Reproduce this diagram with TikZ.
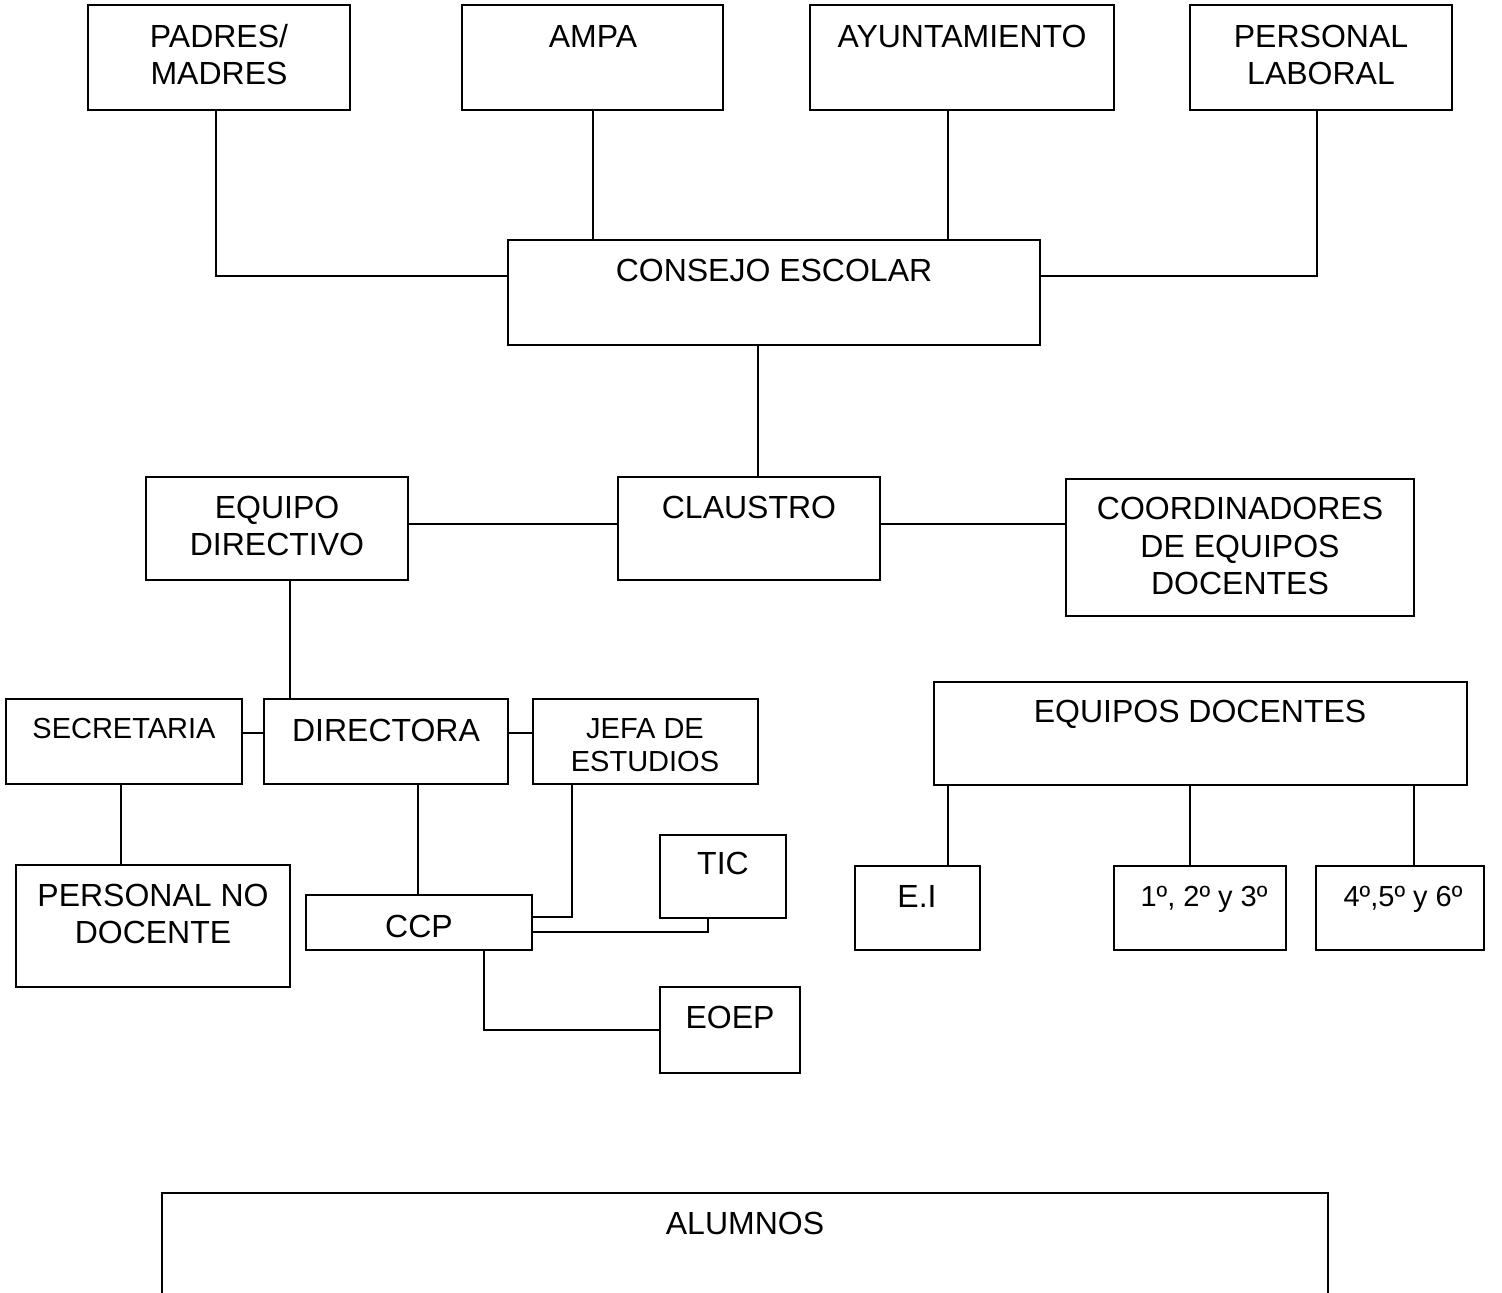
\documentclass[tikz,border=0pt]{standalone}
\usepackage{fontspec}
\setmainfont{Liberation Sans}
\usetikzlibrary{fit}
\begin{document}
\begin{tikzpicture}[x=0.5pt,y=-0.5pt,
  box/.style={draw, line width=1pt, inner sep=0pt},
  big/.style={font=\fontsize{16}{18.5}\selectfont, anchor=base, align=center, inner sep=0pt},
  small/.style={font=\fontsize{14.5}{16.5}\selectfont, anchor=base, align=center, inner sep=0pt},
  conn/.style={line width=1pt}]
\useasboundingbox (0,0) rectangle (1502,1293);
% boxes
\node[box, fit={(88,5) (350,110)}] (pad) {};
\node[box, fit={(462,5) (723,110)}] (ampa) {};
\node[box, fit={(810,5) (1114,110)}] (ayu) {};
\node[box, fit={(1190,5) (1452,110)}] (plab) {};
\node[box, fit={(508,240) (1040,345)}] (ce) {};
\node[box, fit={(146,477) (408,580)}] (ed) {};
\node[box, fit={(618,477) (880,580)}] (cla) {};
\node[box, fit={(1066,479) (1414,616)}] (coord) {};
\node[box, fit={(6,699) (242,784)}] (sec) {};
\node[box, fit={(264,699) (508,784)}] (dir) {};
\node[box, fit={(533,699) (758,784)}] (jefa) {};
\node[box, fit={(16,865) (290,987)}] (pnd) {};
\node[box, fit={(306,895) (532,950)}] (ccp) {};
\node[box, fit={(660,835) (786,918)}] (tic) {};
\node[box, fit={(660,987) (800,1073)}] (eoep) {};
\node[box, fit={(934,682) (1467,785)}] (eqd) {};
\node[box, fit={(855,866) (980,950)}] (ei) {};
\node[box, fit={(1114,866) (1286,950)}] (pa) {};
\node[box, fit={(1316,866) (1484,950)}] (pb) {};
\node[box, fit={(162,1193) (1328,1360)}] (alu) {};
% texts (base anchor = baseline of the last line)
\node[big] (tpad) at (219,85) {PADRES/\\MADRES};
\node[big] (tampa) at (593,48) {AMPA};
\node[big] (tayu) at (962,48) {AYUNTAMIENTO};
\node[big] (tplab) at (1321,85) {PERSONAL\\LABORAL};
\node[big] (tce) at (774,282) {CONSEJO ESCOLAR};
\node[big] (ted) at (277,555) {EQUIPO\\DIRECTIVO};
\node[big] (tcla) at (749,518) {CLAUSTRO};
\node[big] (tcoord) at (1240,594) {COORDINADORES\\DE EQUIPOS\\DOCENTES};
\node[small] (tsec) at (124,738) {SECRETARIA};
\node[big] (tdir) at (386,741) {DIRECTORA};
\node[small] (tjefa) at (645,771) {JEFA DE\\ESTUDIOS};
\node[big] (tpnd) at (153,943) {PERSONAL NO\\DOCENTE};
\node[big] (tccp) at (419,937) {CCP};
\node[big] (ttic) at (723,874) {TIC};
\node[big] (teoep) at (730,1028) {EOEP};
\node[big] (teqd) at (1200,722) {EQUIPOS DOCENTES};
\node[big] (tei) at (917,907) {E.I};
\node[small] (tpa) at (1204,906) {1º, 2º y 3º};
\node[small] (tpb) at (1403,906) {4º,5º y 6º};
\node[big] (talu) at (745,1234) {ALUMNOS};
% connectors
\draw[conn] ([xshift=-1.5pt]pad.south) |- ([yshift=8.25pt]ce.west);
\draw[conn] (ampa.south) -- (ampa.south |- ce.north);
\draw[conn] ([xshift=-7pt]ayu.south) -- ([xshift=-7pt]ayu.south |- ce.north);
\draw[conn] ([xshift=-2pt]plab.south) |- ([yshift=8.25pt]ce.east);
\draw[conn] ([xshift=-8pt]ce.south) -- ([xshift=-8pt]ce.south |- cla.north);
\draw[conn] ([yshift=2.25pt]ed.east) -- ([yshift=2.25pt]ed.east -| cla.west);
\draw[conn] ([yshift=2.25pt]cla.east) -- ([yshift=2.25pt]cla.east -| coord.west);
\draw[conn] ([xshift=6.5pt]ed.south) -- ([xshift=6.5pt]ed.south |- dir.north);
\draw[conn] ([yshift=4.25pt]sec.east) -- ([yshift=4.25pt]sec.east -| dir.west);
\draw[conn] ([yshift=4.25pt]dir.east) -- ([yshift=4.25pt]dir.east -| jefa.west);
\draw[conn] ([xshift=-1.5pt]sec.south) -- ([xshift=-1.5pt]sec.south |- pnd.north);
\draw[conn] ([xshift=16pt]dir.south) -- ([xshift=16pt]dir.south |- ccp.north);
\draw[conn] ([xshift=-36.75pt]jefa.south) |- ([yshift=2.75pt]ccp.east);
\draw[conn] ([xshift=-7.5pt]tic.south) |- ([yshift=-4.75pt]ccp.east);
\draw[conn] ([xshift=32.5pt]ccp.south) |- (eoep.west);
\draw[conn] ([xshift=15.25pt]ei.north) -- ([xshift=15.25pt]ei.north |- eqd.south);
\draw[conn] ([xshift=-5pt]pa.north) -- ([xshift=-5pt]pa.north |- eqd.south);
\draw[conn] ([xshift=7pt]pb.north) -- ([xshift=7pt]pb.north |- eqd.south);
\end{tikzpicture}
\end{document}
